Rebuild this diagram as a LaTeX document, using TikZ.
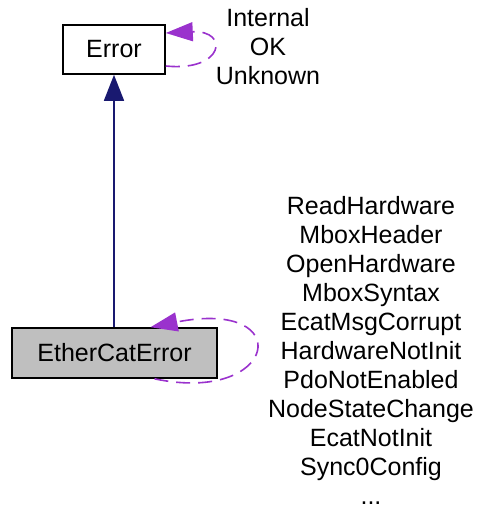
\documentclass[tikz,border=0pt]{standalone}
\usepackage{fontspec}
\setmainfont{Liberation Sans}
\usetikzlibrary{arrows.meta}
\definecolor{edgeblue}{HTML}{191970}
\definecolor{edgepurple}{HTML}{9A32CD}
\definecolor{boxgray}{HTML}{BFBFBF}
\begin{document}
\begin{tikzpicture}[x=1pt,y=-1pt,
  every node/.style={font=\fontsize{25}{29}\selectfont},
  classbox/.style={draw=black, line width=1.6pt, rectangle, inner sep=0pt},
  lbl/.style={align=center, inner sep=0pt},
  inherit/.style={draw=edgeblue, line width=1.6pt, -{Triangle[length=26pt,width=20pt]}},
  usage/.style={draw=edgepurple, line width=1.6pt, dash pattern=on 14pt off 8pt, -{Triangle[length=27pt,width=19pt]}}]
\useasboundingbox (0,0) rectangle (480,507);
\node[classbox, minimum width=102pt, minimum height=49pt] (err) at (114,49.5) {Error};
\node[classbox, fill=boxgray, minimum width=205pt, minimum height=50pt] (eth) at (114.5,353) {EtherCatError};
\node[lbl] (errlbl) at (268,47) {Internal\\OK\\Unknown};
\node[lbl] (ethlbl) at (371,350) {ReadHardware\\MboxHeader\\OpenHardware\\MboxSyntax\\EcatMsgCorrupt\\HardwareNotInit\\PdoNotEnabled\\NodeStateChange\\EcatNotInit\\Sync0Config\\...};
\draw[inherit] (eth.north -| err.south) -- (err.south);
\draw[usage] ([yshift=-16.5pt]err.east) .. controls (224,72) and (230,30) .. ([yshift=16.5pt]err.east);
\draw[usage] ([xshift=40pt]eth.south) .. controls (278,405) and (298,298) .. ([xshift=36pt]eth.north);
\end{tikzpicture}
\end{document}
